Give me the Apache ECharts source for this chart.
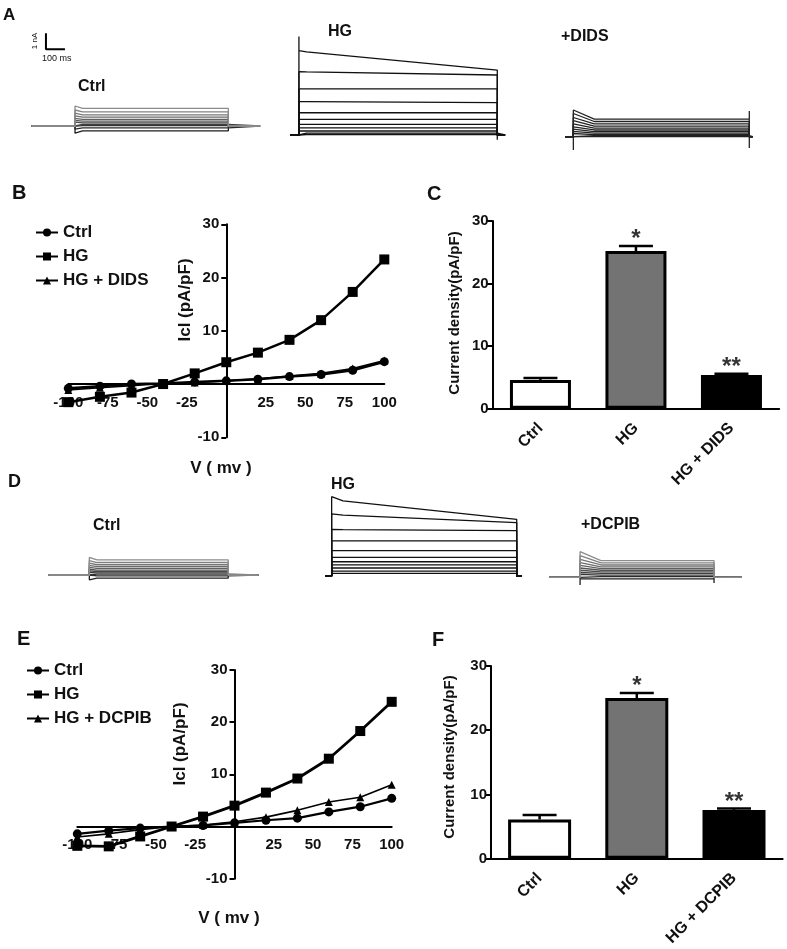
<!DOCTYPE html>
<html><head><meta charset="utf-8">
<script src="https://cdn.jsdelivr.net/npm/echarts@6/dist/echarts.min.js"></script>
<style>html,body{margin:0;padding:0;background:#fff}#c{width:787px;height:949px}</style>
</head><body><div id="c"></div>
<script>
// ---------- I-V data (panels B, E) ----------
const voltages = [-100, -80, -60, -40, -20, 0, 20, 40, 60, 80, 100];
const xTicksIV = [-100, -75, -50, -25, 0, 25, 50, 75, 100];
const yTicksIV = [-10, 0, 10, 20, 30];
const ivB_ctrl = [-0.8, -0.4, 0.0, 0.1, 0.4, 0.6, 0.9, 1.4, 1.8, 2.6, 4.2];
const ivB_hg   = [-3.4, -2.4, -1.6, 0.0, 2.0, 4.1, 5.9, 8.3, 12.0, 17.3, 23.4];
const ivB_dids = [-1.1, -0.7, -0.3, 0.1, 0.3, 0.6, 1.0, 1.5, 2.0, 2.9, 4.4];
const ivE_ctrl = [-1.4, -0.8, -0.3, 0.0, 0.2, 0.7, 1.2, 1.6, 2.8, 3.8, 5.4];
const ivE_hg   = [-3.7, -3.8, -1.9, 0.0, 1.9, 4.0, 6.5, 9.2, 13.0, 18.3, 23.9];
const ivE_dcpib= [-2.0, -1.4, -0.6, 0.0, 0.3, 0.9, 1.8, 3.1, 4.7, 5.6, 8.0];

// ---------- bar data (panels C, F) ----------
const catsC = ['Ctrl', 'HG', 'HG + DIDS'];
const meanC = [4.6, 25.2, 5.4];
const semC  = [0.3, 0.8, 0.2];
const starsC = ['', '*', '**'];
const catsF = ['Ctrl', 'HG', 'HG + DCPIB'];
const meanF = [6.1, 25.0, 7.6];
const semF  = [0.7, 0.8, 0.2];
const starsF = ['', '*', '**'];
const yTicksBar = [0, 10, 20, 30];

// ---------- current traces (panels A, D), ms / nA ----------
// times: [start, pulse on, pulse off, end]
const tA_ctrl = [0, 228, 1035, 1202];
const pkA_ctrl = [1.25, 1.0, 0.8, 0.63, 0.48, 0.35, 0.24, 0.12, 0.02, -0.2, -0.45];
const ssA_ctrl = [1.1, 0.88, 0.7, 0.55, 0.42, 0.3, 0.2, 0.1, 0.02, -0.12, -0.3];
const endA_ctrl = [1.1, 0.88, 0.7, 0.55, 0.42, 0.3, 0.2, 0.1, 0.02, -0.12, -0.3];
const trA_ctrl = [null, null, null, null]; // [spikeOnTop, dipOnBottom, spikeOffTop, tailOffBottom]

const tA_hg = [0, 47, 1091, 1132];
const pkA_hg = [5.27, 3.96, 2.88, 2.08, 1.39, 0.98, 0.66, 0.44, 0.25, 0.12, 0.03];
const ssA_hg = [5.2, 3.94, 2.88, 2.08, 1.39, 0.98, 0.66, 0.44, 0.25, 0.12, 0.03];
const endA_hg = [4.06, 3.75, 2.88, 2.02, 1.39, 0.98, 0.66, 0.44, 0.25, 0.12, 0.03];
const trA_hg = [6.15, null, null, -0.3];

const tA_dids = [0, 44, 970, 988];
const pkA_dids = [1.67, 1.45, 1.2, 1.0, 0.8, 0.62, 0.47, 0.33, 0.2, 0.1, 0.0];
const ssA_dids = [1.1, 0.95, 0.8, 0.66, 0.53, 0.42, 0.32, 0.22, 0.13, 0.06, 0.0];
const endA_dids = [1.1, 0.95, 0.8, 0.66, 0.53, 0.42, 0.32, 0.22, 0.13, 0.06, 0.0];
const trA_dids = [null, -0.83, 1.6, -0.7];

const tD_ctrl = [0, 216, 947, 1105];
const pkD_ctrl = [1.1, 0.9, 0.74, 0.6, 0.47, 0.36, 0.26, 0.16, 0.07, -0.1, -0.3];
const ssD_ctrl = [0.94, 0.78, 0.64, 0.52, 0.41, 0.31, 0.22, 0.13, 0.05, -0.05, -0.2];
const endD_ctrl = [0.94, 0.78, 0.64, 0.52, 0.41, 0.31, 0.22, 0.13, 0.05, -0.05, -0.2];
const trD_ctrl = [null, null, null, -0.3];

const tD_hg = [0, 35, 1009, 1035];
const pkD_hg = [4.86, 3.88, 2.92, 2.2, 1.58, 1.17, 0.89, 0.69, 0.5, 0.31, 0.16];
const ssD_hg = [4.7, 3.8, 2.9, 2.2, 1.58, 1.17, 0.89, 0.69, 0.5, 0.31, 0.16];
const endD_hg = [3.54, 3.33, 2.83, 2.2, 1.58, 1.17, 0.89, 0.69, 0.5, 0.31, 0.16];
const trD_hg = [4.96, null, null, null];

const tD_dcpib = [0, 162, 867, 1013];
const pkD_dcpib = [1.6, 1.35, 1.12, 0.92, 0.74, 0.58, 0.44, 0.3, 0.18, 0.05, -0.1];
const ssD_dcpib = [1.04, 0.9, 0.77, 0.65, 0.54, 0.44, 0.34, 0.24, 0.14, 0.04, -0.1];
const endD_dcpib = [1.04, 0.9, 0.77, 0.65, 0.54, 0.44, 0.34, 0.24, 0.14, 0.04, -0.1];
const trD_dcpib = [null, -0.48, null, -0.35];

// scale bar: [t, nA] corner, lengths 100 ms / 1 nA
const scaleBar = [[75, 5.8], [75, 4.8], [175, 4.8]];

// ---------------------------------------------------------------
const FONT = '"Liberation Sans", Arial, sans-serif';
const chart = echarts.init(document.getElementById('c'), null, {renderer: 'canvas'});

const PXMS = 0.19, PXNA = 16, YMIN = -1.5, YMAX = 6.5;
const tracePanels = [
  {t: tA_ctrl, pk: pkA_ctrl, ss: ssA_ctrl, en: endA_ctrl, tr: trA_ctrl, left: 31.7, base: 126, decay: 40, gray: true},
  {t: tA_hg, pk: pkA_hg, ss: ssA_hg, en: endA_hg, tr: trA_hg, left: 290, base: 135, decay: 40, gray: false, col: '#111'},
  {t: tA_dids, pk: pkA_dids, ss: ssA_dids, en: endA_dids, tr: trA_dids, left: 565, base: 136.7, decay: 110, gray: false, col: '#222'},
  {t: tD_ctrl, pk: pkD_ctrl, ss: ssD_ctrl, en: endD_ctrl, tr: trD_ctrl, left: 48.3, base: 575, decay: 40, gray: true},
  {t: tD_hg, pk: pkD_hg, ss: ssD_hg, en: endD_hg, tr: trD_hg, left: 325, base: 576, decay: 60, gray: false, col: '#111'},
  {t: tD_dcpib, pk: pkD_dcpib, ss: ssD_dcpib, en: endD_dcpib, tr: trD_dcpib, left: 549.3, base: 577.3, decay: 110, gray: true}
];

const grids = [], xAxes = [], yAxes = [], series = [];

tracePanels.forEach((p, gi) => {
  grids.push({left: p.left, top: p.base - YMAX * PXNA, width: p.t[3] * PXMS, height: (YMAX - YMIN) * PXNA});
  xAxes.push({gridIndex: gi, type: 'value', min: p.t[0], max: p.t[3], show: false});
  yAxes.push({gridIndex: gi, type: 'value', min: YMIN, max: YMAX, show: false});
  const n = p.pk.length;
  for (let i = 0; i < n; i++) {
    const [t0, on, off, tEnd] = p.t;
    const pts = [[t0, 0], [on, 0]];
    if (i === 0 && p.tr[0] != null) pts.push([on, p.tr[0]]);
    if (i === n - 1 && p.tr[1] != null) pts.push([on, p.tr[1]]);
    pts.push([on, p.pk[i]]);
    pts.push([on + p.decay, p.ss[i]]);
    pts.push([off, p.en[i]]);
    if (i === 0 && p.tr[2] != null) pts.push([off, p.tr[2]]);
    if (i === n - 1 && p.tr[3] != null) pts.push([off, p.tr[3]]);
    pts.push([off, 0]);
    pts.push([tEnd, 0]);
    let col = p.col;
    if (p.gray) { const g = Math.round(140 - (i / (n - 1)) * 110); col = `rgb(${g},${g},${g})`; }
    series.push({type: 'line', name: 'trace' + gi + '_' + i, xAxisIndex: gi, yAxisIndex: gi, data: pts,
      symbol: 'none', silent: true, animation: false, lineStyle: {color: col, width: 1.3}, z: 2 + (n - i) * 0.01});
  }
});
series.push({type: 'line', name: 'scalebar', xAxisIndex: 0, yAxisIndex: 0, data: scaleBar, symbol: 'none',
  silent: true, animation: false, lineStyle: {color: '#000', width: 2}});

// ---- IV grids (axes cross at 0) ----
function ivAxes(gi, box) {
  grids.push(box);
  const xMin = xTicksIV[0], xMax = xTicksIV[xTicksIV.length - 1];
  const yMin = yTicksIV[0], yMax = yTicksIV[yTicksIV.length - 1];
  const xAxisOffset = -((0 - yMin) / (yMax - yMin)) * box.height;  // move x axis up to y=0
  const yAxisOffset = -((0 - xMin) / (xMax - xMin)) * box.width;   // move y axis right to x=0
  xAxes.push({gridIndex: gi, type: 'value', min: xMin, max: xMax, interval: 25, position: 'bottom', offset: xAxisOffset,
    axisLine: {onZero: false, lineStyle: {color: '#000', width: 2}}, axisTick: {show: false},
    axisLabel: {fontFamily: FONT, fontWeight: 'bold', fontSize: 15, color: '#111', margin: 11,
      formatter: v => (v === 0 ? '' : String(v))}, splitLine: {show: false}});
  yAxes.push({gridIndex: gi, type: 'value', min: yMin, max: yMax, interval: 10, position: 'left', offset: yAxisOffset,
    axisLine: {show: true, onZero: false, lineStyle: {color: '#000', width: 2}},
    axisTick: {show: true, length: 5, lineStyle: {color: '#000', width: 2}},
    axisLabel: {fontFamily: FONT, fontWeight: 'bold', fontSize: 15, color: '#111', margin: 7,
      formatter: v => (v === 0 ? '' : String(v))}, splitLine: {show: false}});
}
function ivSeries(gi, name, vals, symbol, size, width) {
  series.push({type: 'line', name, xAxisIndex: gi, yAxisIndex: gi, data: voltages.map((v, k) => [v, vals[k]]),
    symbol, symbolSize: size, showAllSymbol: true, animation: false,
    lineStyle: {color: '#000', width}, itemStyle: {color: '#000'}, z: 4});
}
ivAxes(6, {left: 68.3, top: 224.3, width: 316, height: 213});
ivSeries(6, 'HG + DIDS', ivB_dids, 'triangle', 8, 1.6);
ivSeries(6, 'Ctrl', ivB_ctrl, 'circle', 9, 2.5);
ivSeries(6, 'HG', ivB_hg, 'rect', 10, 2.5);

// ---- bar grids ----
function barAxes(gi, box, cats) {
  grids.push(box);
  xAxes.push({gridIndex: gi, type: 'category', data: cats,
    axisLine: {lineStyle: {color: '#000', width: 2}},
    axisTick: {alignWithLabel: true, length: 6, lineStyle: {color: '#000', width: 2}},
    axisLabel: {rotate: 45, fontFamily: FONT, fontWeight: 'bold', fontSize: 16, color: '#111', margin: 17}});
  yAxes.push({gridIndex: gi, type: 'value', min: yTicksBar[0], max: yTicksBar[yTicksBar.length - 1], interval: 10,
    axisLine: {show: true, lineStyle: {color: '#000', width: 2}},
    axisTick: {show: true, length: 6, lineStyle: {color: '#000', width: 2}},
    axisLabel: {fontFamily: FONT, fontWeight: 'bold', fontSize: 15, color: '#111', margin: 4},
    splitLine: {show: false}});
}
const barFills = ['#ffffff', '#737373', '#000000'];
function barSeries(gi, means, sems, stars, bw) {
  series.push({type: 'bar', xAxisIndex: gi, yAxisIndex: gi, barWidth: bw, animation: false,
    data: means.map((m, k) => ({value: m, itemStyle: {color: barFills[k], borderColor: '#000', borderWidth: 3}})), z: 3});
  series.push({type: 'custom', xAxisIndex: gi, yAxisIndex: gi, animation: false, z: 4,
    data: means.map((m, k) => [k, m, sems[k]]),
    renderItem: (params, api) => {
      const x = api.value(0), m = api.value(1), e = api.value(2);
      const p0 = api.coord([x, m]), p1 = api.coord([x, m + e]);
      const hw = 17;
      return {type: 'group', children: [
        {type: 'line', shape: {x1: p0[0], y1: p0[1], x2: p1[0], y2: p1[1]}, style: {stroke: '#000', lineWidth: 2.5}},
        {type: 'line', shape: {x1: p1[0] - hw, y1: p1[1], x2: p1[0] + hw, y2: p1[1]}, style: {stroke: '#000', lineWidth: 2.5}}
      ]};
    }});
  series.push({type: 'scatter', xAxisIndex: gi, yAxisIndex: gi, animation: false, symbolSize: 1,
    itemStyle: {color: 'rgba(0,0,0,0)'}, data: means.map((m, k) => [k, m + sems[k]]),
    label: {show: true, position: 'top', distance: -6, color: '#000', fontFamily: FONT, fontWeight: 'bold', fontSize: 24,
      formatter: p => stars[p.dataIndex]}});
}
barAxes(7, {left: 492.7, top: 221, width: 286.5, height: 187.7}, catsC);
barSeries(7, meanC, semC, starsC, 61);

ivAxes(8, {left: 77.3, top: 670, width: 314.4, height: 208.7});
ivSeries(8, 'HG + DCPIB', ivE_dcpib, 'triangle', 8, 1.6);
ivSeries(8, 'Ctrl', ivE_ctrl, 'circle', 9, 2.2);
ivSeries(8, 'HG', ivE_hg, 'rect', 10, 2.8);

barAxes(9, {left: 491, top: 666, width: 291.6, height: 192.7}, catsF);
barSeries(9, meanF, semF, starsF, 63);

// ---- text ----
function txt(text, x, y, size, opts = {}) {
  return {type: 'text', x, y, rotation: opts.rot || 0, z: 10,
    style: {text, fontFamily: FONT, fontWeight: opts.weight || 'bold', fontSize: size, fill: '#111',
      align: opts.align || 'left', verticalAlign: 'middle'}};
}
const graphics = [
  txt('A', 3, 15, 17), txt('B', 12, 193, 20), txt('C', 427, 194, 20),
  txt('D', 8, 482, 18), txt('E', 17, 639, 20), txt('F', 432, 640, 20),
  txt('Ctrl', 78, 87, 16), txt('HG', 328, 32, 16), txt('+DIDS', 561, 37, 16),
  txt('Ctrl', 93, 526, 16), txt('HG', 331, 485, 16), txt('+DCPIB', 581, 525, 16),
  txt('1 nA', 35, 41, 8, {weight: 'normal', align: 'center', rot: Math.PI / 2}),
  txt('100 ms', 42, 59, 9, {weight: 'normal'}),
  txt('Icl (pA/pF)', 185, 300, 17, {align: 'center', rot: Math.PI / 2}),
  txt('V ( mv )', 221, 468, 17, {align: 'center'}),
  txt('Current density(pA/pF)', 455, 313, 15, {align: 'center', rot: Math.PI / 2}),
  txt('Icl (pA/pF)', 180, 744, 17, {align: 'center', rot: Math.PI / 2}),
  txt('V ( mv )', 229, 918, 17, {align: 'center'}),
  txt('Current density(pA/pF)', 450, 757, 15, {align: 'center', rot: Math.PI / 2})
];

const legendCommon = {orient: 'vertical', itemWidth: 22, itemHeight: 10, itemGap: 7, itemTextGap: 12,
  textStyle: {fontFamily: FONT, fontWeight: 'bold', fontSize: 17, color: '#111'}, selectedMode: false};

chart.setOption({
  backgroundColor: '#fff',
  animation: false,
  grid: grids, xAxis: xAxes, yAxis: yAxes, series,
  legend: [
    Object.assign({left: 30, top: 219, data: ['Ctrl', 'HG', 'HG + DIDS']}, legendCommon),
    Object.assign({left: 21, top: 657, data: ['Ctrl', 'HG', 'HG + DCPIB']}, legendCommon)
  ],
  graphic: graphics
});
</script></body></html>
